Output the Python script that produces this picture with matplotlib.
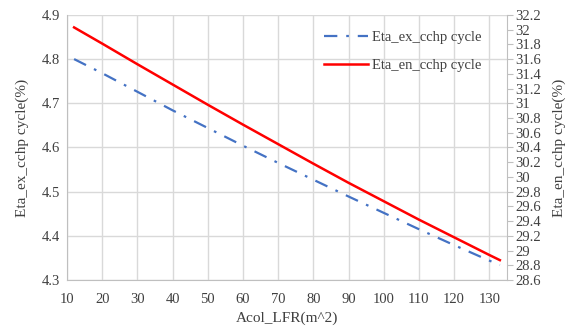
import numpy as np
import matplotlib
matplotlib.use('Agg')
import matplotlib.pyplot as plt

plt.rcParams['font.family'] = ['Liberation Serif', 'DejaVu Serif']

# collector area (m^2)
area = [12, 20, 30, 40, 50, 60, 70, 80, 90, 100, 110, 120, 130, 133]
# exergy efficiency (%), left axis
eta_ex = [4.800, 4.768, 4.726, 4.684, 4.644, 4.604, 4.565, 4.527, 4.489,
          4.452, 4.415, 4.379, 4.344, 4.334]
# energy efficiency (%), right axis
eta_en = [32.03, 31.81, 31.53, 31.255, 30.98, 30.71, 30.445, 30.18, 29.92,
          29.67, 29.42, 29.18, 28.94, 28.87]

grid_c = '#D9D9D9'
text_c = '#404040'

fig = plt.figure(figsize=(5.78, 3.31), dpi=100)
ax = fig.add_axes([0.116, 0.154, 0.761, 0.801])
ax2 = ax.twinx()

l1, = ax.plot(area, eta_ex, color='#4472C4', lw=1.6,
              dashes=(6, 4, 1.2, 4), label='Eta_ex_cchp cycle')
l2, = ax2.plot(area, eta_en, color='#FF0000', lw=1.8,
               label='Eta_en_cchp cycle')

ax.set_xlim(10, 135)
ax.set_ylim(4.3, 4.9)
ax2.set_ylim(28.6, 32.2)
ax.set_xticks(np.arange(10, 131, 10))
ax.set_yticks(np.arange(4.3, 4.91, 0.1))
ax.set_yticklabels(['%.1f' % v for v in np.arange(4.3, 4.91, 0.1)])
r_ticks = np.arange(28.6, 32.21, 0.2)
ax2.set_yticks(r_ticks)
ax2.set_yticklabels(['%g' % round(v, 1) for v in r_ticks])

ax.grid(True, color=grid_c, lw=1)
ax.set_axisbelow(True)
for s in ['top', 'right']:
    ax.spines[s].set_visible(False)
for s in ['top', 'left', 'bottom']:
    ax2.spines[s].set_visible(False)
ax.spines['left'].set_color('#BFBFBF')
ax.spines['bottom'].set_color('#BFBFBF')
ax2.spines['right'].set_color('#BFBFBF')

ax.tick_params(axis='both', length=0, labelsize=10.5, colors=text_c)
ax.tick_params(axis='x', pad=9)
ax.tick_params(axis='y', pad=5)
ax2.tick_params(axis='y', length=4, color='#BFBFBF', labelsize=10.5,
                labelcolor=text_c, pad=2)

ax.set_xlabel('Acol_LFR(m^2)', fontsize=11, color=text_c, labelpad=4)
ax.set_ylabel('Eta_ex_cchp cycle(%)', fontsize=11, color=text_c, labelpad=9)
ax2.set_ylabel('Eta_en_cchp cycle(%)', fontsize=11, color=text_c, labelpad=8)

leg = ax2.legend(handles=[l1, l2], loc='upper right', frameon=False,
                 fontsize=10.5, handlelength=3.0, handletextpad=0.3,
                 labelspacing=1.0, bbox_to_anchor=(0.973, 0.99))
for t in leg.get_texts():
    t.set_color(text_c)

fig.savefig('out.png', dpi=100)
